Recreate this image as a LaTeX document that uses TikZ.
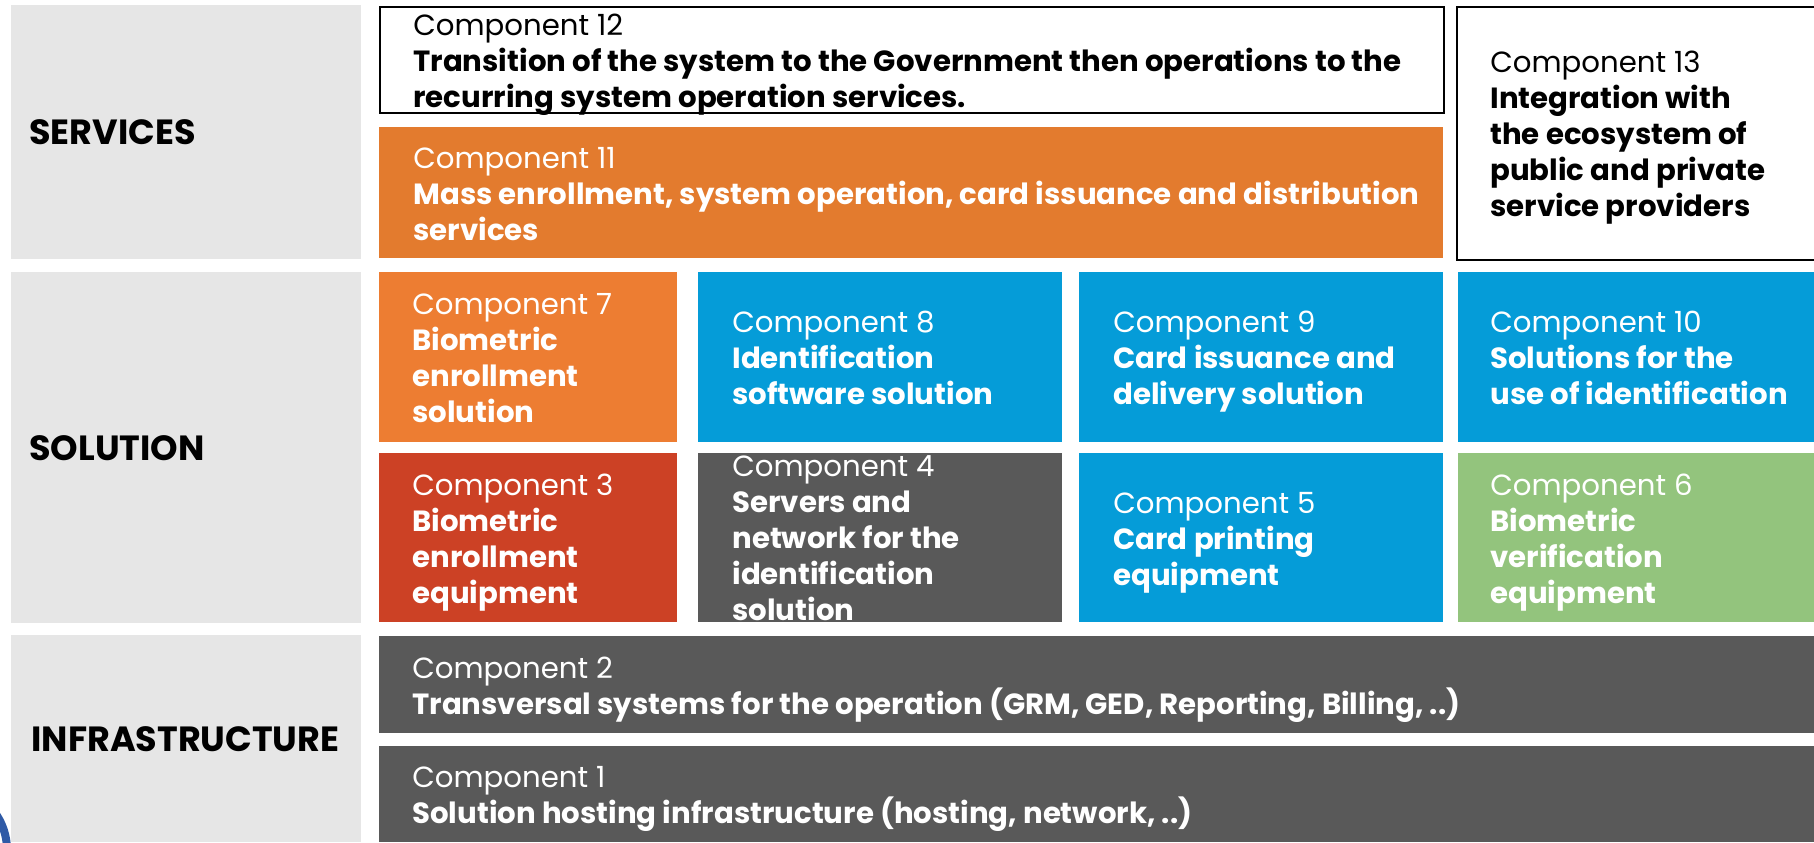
\documentclass[tikz,border=0pt]{standalone}
\usepackage{fontspec}
\setmainfont{Poppins}
\usepackage{tikz}
\usetikzlibrary{positioning,calc}
\definecolor{bandG}{HTML}{E6E6E6}
\definecolor{orgA}{HTML}{E37B2E}
\definecolor{orgB}{HTML}{ED7D32}
\definecolor{blueC}{HTML}{059CD8}
\definecolor{redC}{HTML}{CC4125}
\definecolor{greyD}{HTML}{595959}
\definecolor{greenC}{HTML}{93C47D}
\definecolor{logoC}{HTML}{2F5AA6}
\tikzset{
  sz/.style 2 args={minimum width=#1*0.5pt, minimum height=#2*0.5pt},
  sect/.style={rectangle, fill=bandG, inner sep=0pt, anchor=north west},
  comp/.style={rectangle, fill=#1, inner sep=0pt, anchor=north west},
  compline/.style={rectangle, draw=black, line width=1pt, fill=white, inner sep=0pt, anchor=north west},
  ctxt/.style={anchor=west, align=left, inner sep=0pt, text=white, yshift=-3pt,
               font=\fontsize{14.6}{18}\selectfont,
               execute at begin node=\strut, execute at end node=\strut},
  stxt/.style={anchor=west, inner sep=0pt, font=\fontsize{17.5}{20}\selectfont\bfseries},
}

\begin{document}
\begin{tikzpicture}[x=0.5pt, y=-0.5pt]
  \useasboundingbox (0,0) rectangle (1814,842);
  \clip (0,0) rectangle (1814,842);

  % layer bands on the left
  \node[sect, sz={350}{254}] (serv) at (11,5) {};
  \node[sect, sz={350}{351}] (sol) at (11,272) {};
  \node[sect, sz={350}{207}] (infra) at (11,635) {};
  \node[stxt] (lserv) at ([xshift=9pt]serv.west) {SERVICES};
  \node[stxt] (lsol) at ([xshift=9pt]sol.west) {SOLUTION};
  \node[stxt] (linfra) at ([xshift=10pt]infra.west) {INFRASTRUCTURE};

  % services
  \node[compline, sz={1064}{106}] (c12) at (379,6) {};
  \node[comp=orgA, sz={1064}{131}] (c11) at (379,127) {};
  \node[compline, sz={380}{253}] (c13) at (1456,6) {};

  % solution, two rows
  \node[comp=orgB, sz={298}{170}] (c7) at (379,272) {};
  \node[comp=blueC, sz={364}{170}] (c8) at (698,272) {};
  \node[comp=blueC, sz={364}{170}] (c9) at (1079,272) {};
  \node[comp=blueC, sz={356}{170}] (c10) at (1458,272) {};
  \node[comp=redC, sz={298}{169}] (c3) at (379,453) {};
  \node[comp=greyD, sz={364}{169}] (c4) at (698,453) {};
  \node[comp=blueC, sz={364}{169}] (c5) at (1079,453) {};
  \node[comp=greenC, sz={356}{169}] (c6) at (1458,453) {};

  % infrastructure
  \node[comp=greyD, sz={1435}{97}] (c2) at (379,636) {};
  \node[comp=greyD, sz={1435}{96}] (c1) at (379,746) {};

  % texts
  \node[ctxt, text=black] (t12) at ([xshift=17pt]c12.west)
    {Component 12\\\textbf{Transition of the system to the Government then operations to the}\\\textbf{recurring system operation services.}};
  \node[ctxt] (t11) at ([xshift=17pt]c11.west)
    {Component 11\\\textbf{Mass enrollment, system operation, card issuance and distribution}\\\textbf{services}};
  \node[ctxt, text=black] (t13) at ([xshift=17pt]c13.west)
    {Component 13\\\textbf{Integration with}\\\textbf{the ecosystem of}\\\textbf{public and private}\\\textbf{service providers}};
  \node[ctxt] (t7) at ([xshift=16.5pt]c7.west)
    {Component 7\\\textbf{Biometric}\\\textbf{enrollment}\\\textbf{solution}};
  \node[ctxt] (t8) at ([xshift=17pt]c8.west)
    {Component 8\\\textbf{Identification}\\\textbf{software solution}};
  \node[ctxt] (t9) at ([xshift=17pt]c9.west)
    {Component 9\\\textbf{Card issuance and}\\\textbf{delivery solution}};
  \node[ctxt] (t10) at ([xshift=16pt]c10.west)
    {Component 10\\\textbf{Solutions for the}\\\textbf{use of identification}};
  \node[ctxt] (t3) at ([xshift=16.5pt]c3.west)
    {Component 3\\\textbf{Biometric}\\\textbf{enrollment}\\\textbf{equipment}};
  \node[ctxt] (t4) at ([xshift=17pt]c4.west)
    {Component 4\\\textbf{Servers and}\\\textbf{network for the}\\\textbf{identification}\\\textbf{solution}};
  \node[ctxt] (t5) at ([xshift=17pt]c5.west)
    {Component 5\\\textbf{Card printing}\\\textbf{equipment}};
  \node[ctxt] (t6) at ([xshift=16pt]c6.west)
    {Component 6\\\textbf{Biometric}\\\textbf{verification}\\\textbf{equipment}};
  \node[ctxt] (t2) at ([xshift=16.5pt]c2.west)
    {Component 2\\\textbf{Transversal systems for the operation (GRM, GED, Reporting, Billing, ..)}};
  \node[ctxt] (t1) at ([xshift=16.5pt]c1.west)
    {Component 1\\\textbf{Solution hosting infrastructure (hosting, network, ..)}};

  % logo edge in the corner
  \draw[logoC, line width=4pt] (-57,850) circle (64);
\end{tikzpicture}
\end{document}
